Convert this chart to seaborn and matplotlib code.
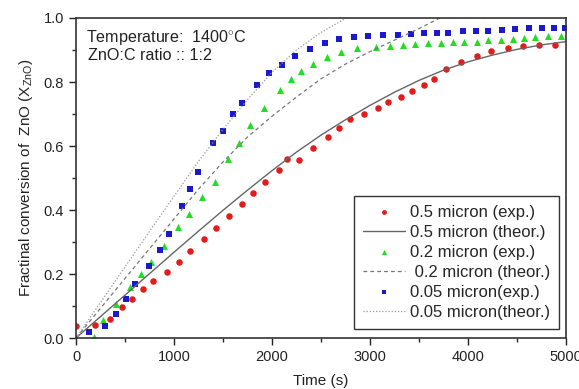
import numpy as np
import pandas as pd
import matplotlib
matplotlib.use("Agg")
import matplotlib.pyplot as plt
import seaborn as sns
from matplotlib.ticker import MultipleLocator, FormatStrFormatter

# ---- data ----
t_red = [5, 194, 347, 466, 575, 687, 789, 925, 1051, 1163, 1306, 1429, 1564, 1694, 1803,
         1929, 2068, 2156, 2279, 2418, 2573, 2687, 2796, 2939, 3078, 3187, 3316, 3429, 3551,
         3650, 3776, 3929, 4095, 4235, 4405, 4558, 4728, 4891]
x_red = [0.038, 0.040, 0.060, 0.096, 0.122, 0.153, 0.178, 0.205, 0.236, 0.272, 0.308, 0.345,
         0.381, 0.418, 0.452, 0.489, 0.524, 0.559, 0.556, 0.593, 0.628, 0.655, 0.683, 0.700,
         0.718, 0.736, 0.754, 0.773, 0.791, 0.808, 0.840, 0.864, 0.881, 0.898, 0.905, 0.911,
         0.916, 0.916]

t_green = [187, 279, 408, 551, 660, 762, 893, 1038, 1150, 1285, 1415, 1554, 1663, 1776, 1918,
           2082, 2197, 2296, 2422, 2558, 2701, 2871, 3061, 3204, 3333, 3459, 3595, 3724, 3844,
           3959, 4089, 4207, 4333, 4462, 4575, 4684, 4813, 4949]
x_green = [0.004, 0.056, 0.106, 0.158, 0.200, 0.238, 0.289, 0.348, 0.388, 0.442, 0.488, 0.558,
           0.610, 0.666, 0.720, 0.774, 0.809, 0.835, 0.857, 0.877, 0.895, 0.905, 0.910, 0.913,
           0.916, 0.918, 0.921, 0.923, 0.924, 0.926, 0.926, 0.930, 0.931, 0.934, 0.936, 0.940,
           0.944, 0.944]

t_blue = [136, 296, 405, 507, 602, 745, 853, 952, 1079, 1163, 1248, 1395, 1497, 1597, 1694,
          1844, 1969, 2099, 2235, 2391, 2541, 2687, 2837, 2976, 3129, 3289, 3415, 3554, 3680,
          3793, 3952, 4082, 4207, 4344, 4479, 4626, 4752, 4881, 4990]
x_blue = [0.018, 0.038, 0.074, 0.122, 0.168, 0.226, 0.276, 0.326, 0.413, 0.465, 0.520, 0.610,
          0.647, 0.700, 0.735, 0.790, 0.827, 0.853, 0.881, 0.902, 0.921, 0.933, 0.940, 0.944,
          0.947, 0.947, 0.949, 0.952, 0.952, 0.952, 0.959, 0.959, 0.959, 0.962, 0.965, 0.968,
          0.968, 0.970, 0.970]

t_th05 = [0, 250, 500, 750, 1000, 1250, 1500, 1750, 2000, 2250, 2500, 2750, 3000, 3250,
          3500, 3750, 4000, 4250, 4500, 4750, 5000]
x_th05 = [0.0, 0.067, 0.134, 0.201, 0.268, 0.334, 0.399, 0.462, 0.523, 0.581, 0.634, 0.682,
          0.727, 0.768, 0.805, 0.837, 0.863, 0.884, 0.902, 0.916, 0.926]

t_th02 = [0, 250, 500, 750, 1000, 1250, 1500, 1750, 2000, 2250, 2500, 2750, 3000, 3250,
          3500, 3714]
x_th02 = [0.0, 0.093, 0.186, 0.279, 0.372, 0.465, 0.550, 0.628, 0.693, 0.753, 0.810, 0.856,
          0.895, 0.931, 0.967, 1.0]

t_th005 = [0, 250, 500, 750, 1000, 1250, 1500, 1750, 2000, 2250, 2500, 2760]
x_th005 = [0.0, 0.111, 0.222, 0.333, 0.443, 0.552, 0.652, 0.745, 0.830, 0.900, 0.955, 1.0]

labels = ["0.5 micron (exp.)", "0.5 micron (theor.)", "0.2 micron (exp.)",
          " 0.2 micron (theor.)", "0.05 micron(exp.)", "0.05 micron(theor.)"]

# ---- plotting ----
sns.set_theme(style="ticks")
plt.rcParams['font.family'] = ['Liberation Sans', 'DejaVu Sans']
plt.rcParams['mathtext.fontset'] = 'custom'
plt.rcParams['mathtext.rm'] = 'Liberation Sans'
plt.rcParams['mathtext.it'] = 'Liberation Sans'

fig = plt.figure(figsize=(5.79, 3.89), dpi=100)
ax = fig.add_axes([76/579, 1-338/389, (566-76)/579, (338-18)/389])

red = "#e01c1c"
green = "#22dd22"
blue = "#1a1acc"

sns.scatterplot(x=t_red, y=x_red, ax=ax, color=red, marker="o", s=22, linewidth=0,
                label=labels[0])
sns.lineplot(x=t_th05, y=x_th05, ax=ax, color="#666666", linewidth=1.0, linestyle="-",
             label=labels[1])
sns.scatterplot(x=t_green, y=x_green, ax=ax, color=green, marker="^", s=26, linewidth=0,
                label=labels[2])
sns.lineplot(x=t_th02, y=x_th02, ax=ax, color="#777777", linewidth=0.9, linestyle=(0, (3, 2.5)),
             label=labels[3])
sns.scatterplot(x=t_blue, y=x_blue, ax=ax, color=blue, marker="s", s=17, linewidth=0,
                label=labels[4])
sns.lineplot(x=t_th005, y=x_th005, ax=ax, color="#999999", linewidth=0.9, linestyle=(0, (1, 1.5)),
             label=labels[5])

ax.set_xlim(0, 5000)
ax.set_ylim(0, 1.0)
ax.xaxis.set_major_locator(MultipleLocator(1000))
ax.xaxis.set_minor_locator(MultipleLocator(500))
ax.yaxis.set_major_locator(MultipleLocator(0.2))
ax.yaxis.set_minor_locator(MultipleLocator(0.1))
ax.yaxis.set_major_formatter(FormatStrFormatter("%.1f"))
ax.tick_params(axis="both", which="major", direction="out", length=5, width=1,
               labelsize=10.5, colors="#222222", top=False, right=False)
ax.tick_params(axis="both", which="minor", direction="out", length=3, width=1,
               top=False, right=False)
for sp in ax.spines.values():
    sp.set_visible(True)
    sp.set_color("#333333")
    sp.set_linewidth(1.2)

ax.set_xlabel("Time (s)", fontsize=11, color="#222222", labelpad=7)
ax.set_ylabel("Fractinal conversion of  ZnO (X$_{ZnO}$)", fontsize=11, color="#222222",
              labelpad=6)

ax.text(0.0204, 0.94, "Temperature:  1400$^{\\circ}$C", transform=ax.transAxes,
        fontsize=11.6, va="center", ha="left", color="#222222")
ax.text(0.0245, 0.884, "ZnO:C ratio :: 1:2", transform=ax.transAxes,
        fontsize=11.6, va="center", ha="left", color="#222222")

handles, labs = ax.get_legend_handles_labels()
order = [labs.index(l) for l in labels]
leg = ax.legend([handles[i] for i in order], [labs[i] for i in order],
                loc="lower right", bbox_to_anchor=(0.9865, 0.028), fontsize=12,
                frameon=True, fancybox=False, edgecolor="#333333", framealpha=1,
                handlelength=2.5, handletextpad=0.3, labelspacing=0.3,
                borderpad=0.55, borderaxespad=0, markerscale=0.75)
leg.get_frame().set_linewidth(1.0)

fig.savefig("out.png", dpi=100)
